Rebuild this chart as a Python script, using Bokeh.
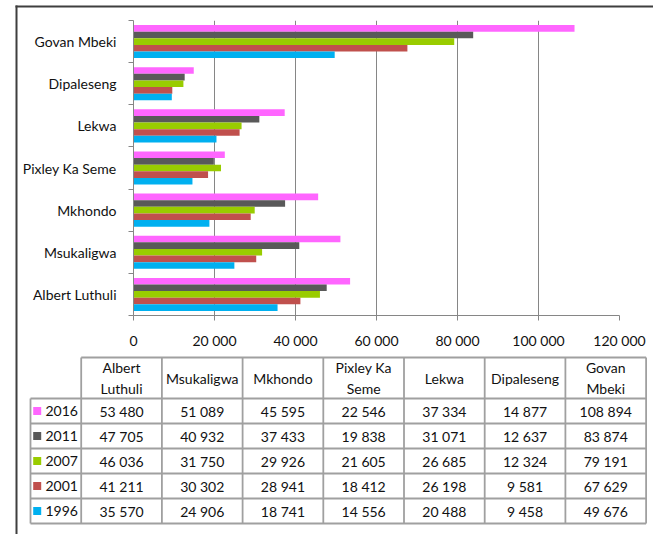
from bokeh.plotting import figure
from bokeh.models import ColumnDataSource, Range1d, FixedTicker, LinearAxis, LinearScale
from bokeh.core.properties import value
from bokeh.embed import file_html
from bokeh.resources import INLINE

# Households per municipality, census / survey years
municipalities = ["Albert Luthuli", "Msukaligwa", "Mkhondo", "Pixley Ka Seme",
                  "Lekwa", "Dipaleseng", "Govan Mbeki"]
table_headers = ["Albert\nLuthuli", "Msukaligwa", "Mkhondo", "Pixley Ka\nSeme",
                 "Lekwa", "Dipaleseng", "Govan\nMbeki"]
years = ["2016", "2011", "2007", "2001", "1996"]
hh_2016 = [53480, 51089, 45595, 22546, 37334, 14877, 108894]
hh_2011 = [47705, 40932, 37433, 19838, 31071, 12637, 83874]
hh_2007 = [46036, 31750, 29926, 21605, 26685, 12324, 79191]
hh_2001 = [41211, 30302, 28941, 18412, 26198, 9581, 67629]
hh_1996 = [35570, 24906, 18741, 14556, 20488, 9458, 49676]
x_ticks = [0, 20000, 40000, 60000, 80000, 100000, 120000]
x_tick_labels = ["0", "20 000", "40 000", "60 000", "80 000", "100 000", "120 000"]

series = [hh_2016, hh_2011, hh_2007, hh_2001, hh_1996]
colors = ["#FF66FF", "#595959", "#99CC00", "#C0504D", "#00B0F0"]

FONT = "Lato"
FS = "14px"
TXT = "#111111"
GRID = "#868686"
FRAME = "#3f3f3f"

W, H = 653, 534
FL, FR, FT, FB = 133, 619, 20, 315   # plot frame edges on the page
n_cat = len(municipalities)

p = figure(width=W, height=H, x_range=Range1d(0, 120000),
           y_range=Range1d(0, n_cat), y_axis_location=None,
           output_backend="svg", toolbar_location=None,
           min_border_left=FL, min_border_right=W - FR,
           min_border_top=FT, min_border_bottom=H - FB)
p.outline_line_color = None
p.background_fill_color = "white"
p.border_fill_color = "white"

# ---------------- bars ----------------
slot_mid = [i + 0.5 for i in range(n_cat)]   # first municipality at the bottom
bar_h = 0.157
offsets = [2 * bar_h, bar_h, 0.0, -bar_h, -2 * bar_h]
for vals, col, off in zip(series, colors, offsets):
    src = ColumnDataSource(dict(y=[m + off for m in slot_mid], v=vals))
    p.hbar(y="y", left=0, right="v", height=bar_h, source=src,
           fill_color=col, line_color=None)

ticker = FixedTicker(ticks=x_ticks)
p.xaxis.ticker = ticker
p.xgrid.ticker = ticker
p.xaxis.major_label_overrides = dict(zip(x_ticks, x_tick_labels))
p.xaxis.axis_line_color = GRID
p.xaxis.major_tick_line_color = GRID
p.xaxis.major_tick_out = 5
p.xaxis.major_tick_in = 0
p.xaxis.minor_tick_line_color = None
p.xaxis.major_label_standoff = 11
p.xaxis.major_label_text_font = FONT
p.xaxis.major_label_text_font_size = FS
p.xaxis.major_label_text_color = TXT
p.xgrid.grid_line_color = GRID
p.xgrid.grid_line_width = 1
p.ygrid.visible = False

# tick marks between categories
bounds = list(range(n_cat + 1))
p.add_layout(LinearAxis(ticker=FixedTicker(ticks=bounds),
                        major_label_overrides={b: "" for b in bounds},
                        axis_line_color=GRID, major_tick_line_color=GRID,
                        major_tick_out=5, major_tick_in=0,
                        minor_tick_line_color=None, major_label_standoff=0), "left")

# municipality names at slot centres
p.add_layout(LinearAxis(ticker=FixedTicker(ticks=slot_mid),
                        major_label_overrides=dict(zip(slot_mid, municipalities)),
                        axis_line_color=None, major_tick_line_color=None,
                        minor_tick_line_color=None, major_label_standoff=6,
                        major_label_text_font=FONT,
                        major_label_text_font_size=FS,
                        major_label_text_color=TXT), "left")

# ---------------- page-pixel coordinates for the data table ----------------
p.extra_x_ranges = {"px": Range1d(FL, FR)}
p.extra_y_ranges = {"py": Range1d(FB, FT)}
p.extra_x_scales = {"px": LinearScale()}
p.extra_y_scales = {"py": LinearScale()}
PX = dict(x_range_name="px", y_range_name="py", level="overlay")

# outer frame: top and left edges
p.segment(x0=[15, 16], y0=[6, 5], x1=[W, 16], y1=[6, H], line_color=FRAME,
          line_width=2, **PX)

TLINE = "#a0a0a0"
leg_left = 30.0
data_left = 80.7
col_w = 80.7
head_top = 357.0
head_bot = 398.0
row_h = 25.0
n_rows = len(years)
right = data_left + n_cat * col_w
bottom = head_bot + n_rows * row_h

x0, y0, x1, y1 = [], [], [], []
x0.append(data_left); x1.append(right); y0.append(head_top); y1.append(head_top)
for i in range(n_rows + 1):
    yy = head_bot + i * row_h
    x0.append(leg_left); x1.append(right); y0.append(yy); y1.append(yy)
x0.append(leg_left); x1.append(leg_left); y0.append(head_bot); y1.append(bottom)
for j in range(n_cat + 1):
    xx = data_left + j * col_w
    x0.append(xx); x1.append(xx); y0.append(head_top); y1.append(bottom)
p.segment(x0=x0, y0=y0, x1=x1, y1=y1, line_color=TLINE, line_width=1.8, **PX)

col_cx = [data_left + (j + 0.5) * col_w for j in range(n_cat)]
p.text(x=col_cx, y=[(head_top + head_bot) / 2] * n_cat, text=table_headers,
       text_align="center", text_baseline="middle", text_font=value(FONT),
       text_font_size=FS, text_color=TXT, text_line_height=1.2, **PX)

def fmt(v):
    return f"{v:,}".replace(",", " ")

tx, ty, tt = [], [], []
for i, vals in enumerate(series):
    cy = head_bot + (i + 0.5) * row_h
    for j, v in enumerate(vals):
        tx.append(col_cx[j]); ty.append(cy); tt.append(fmt(v))
p.text(x=tx, y=ty, text=tt, text_align="center", text_baseline="middle",
       text_font=value(FONT), text_font_size=FS, text_color=TXT, **PX)

# legend keys: small coloured squares before each year
row_cy = [head_bot + (i + 0.5) * row_h for i in range(n_rows)]
p.segment(x0=[32.7] * n_rows, y0=row_cy, x1=[40.7] * n_rows, y1=row_cy,
          line_color=colors, line_width=8, line_cap="butt", **PX)
p.text(x=[45] * n_rows, y=row_cy, text=years, text_align="left",
       text_baseline="middle", text_font=value(FONT), text_font_size=FS,
       text_color=TXT, **PX)

open("out.html", "w").write(file_html(p, INLINE))
